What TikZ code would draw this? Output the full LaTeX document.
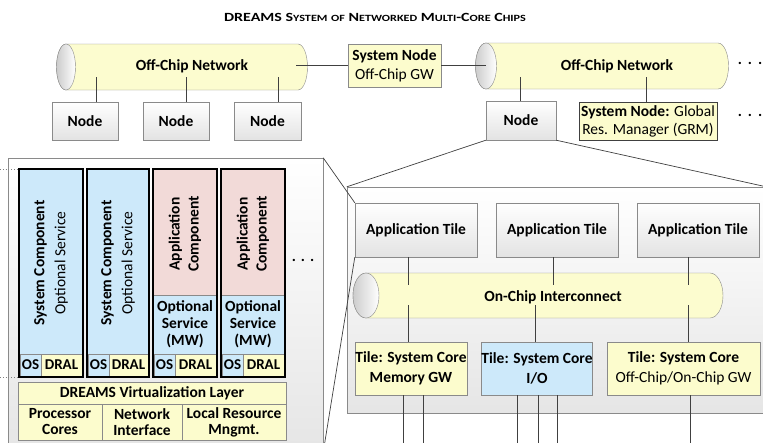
\documentclass[tikz,border=0pt]{standalone}
\usepackage{fontspec}
\setmainfont{Carlito}
\definecolor{cylY}{HTML}{FCFCCF}
\definecolor{boxY}{HTML}{FCFCCD}
\definecolor{boxB}{HTML}{CDE9FA}
\definecolor{boxP}{HTML}{F2DAD8}
\definecolor{edge}{HTML}{8A8A8A}
\definecolor{lin}{HTML}{404040}
\newcommand\bx[7]{\node[#2, minimum width={((#5)-(#3))*1pt}, minimum height={((#6)-(#4))*1pt}] (#1) at ({((#3)+(#5))/2},{-((#4)+(#6))/2}) {#7};}
\newcommand\hcyl[6]{%
  \path[draw=edge, fill=cylY] (#2,-#3) -- (#4,-#3) arc[start angle=90,end angle=-90,x radius=#6,y radius={(#5-#3)/2}] -- (#2,-#5) arc[start angle=270,end angle=90,x radius=#6,y radius={(#5-#3)/2}] -- cycle;
  \path[draw=edge, left color=black!20, right color=white] (#2,{-(#3+#5)/2}) ellipse[x radius=#6, y radius={(#5-#3)/2}];
  \coordinate (#1) at ({(#2+#4)/2},{-(#3+#5)/2});}
\newcommand\smc[1]{{\fontsize{9.5}{10}\selectfont #1}}
\tikzset{
  every node/.style={font=\fontsize{15.5}{18}\selectfont\bfseries, inner sep=0pt, align=center},
  graybox/.style={draw=edge, top color=white, bottom color=black!11},
  ybox/.style={draw=edge, fill=boxY},
  bbox/.style={draw=edge, fill=boxB},
  pbox/.style={draw=edge, fill=boxP},
  panel/.style={draw=edge, top color=white, bottom color=black!10},
  comp/.style={draw=black, line width=2pt},
  conn/.style={draw=lin, line width=0.8pt},
  fan/.style={draw=lin, line width=0.7pt},
  cell/.style={font=\fontsize{15}{16}\selectfont\bfseries},
  dotl/.style={draw=gray, dotted, line width=0.8pt}
}
\begin{document}
\begin{tikzpicture}[x=1pt,y=1pt]
\clip (0,0) rectangle (763,-442);
\fill[white] (0,0) rectangle (763,-442);

% title
\node (title) at (375,-17) {\scalebox{1.28}[1]{\fontsize{12.5}{14}\selectfont DREAMS S\smc{YSTEM} \smc{OF} N\smc{ETWORKED} M\smc{ULTI}-C\smc{ORE} C\smc{HIPS}}};

% top cylinders
\hcyl{offL}{66}{44}{298}{90}{9.5}
\node (offLtxt) at (192,-66) {Off-Chip Network};
\hcyl{offR}{486}{43}{718}{89}{10.5}
\node (offRtxt) at (617,-66) {Off-Chip Network};
\coordinate (offLend) at (296,-65.5);
\coordinate (offRend) at (486,-65.5);
\coordinate (cylLow) at (0,-77);

\bx{sysn}{ybox}{348}{44}{441}{87}{System Node\\[1pt]{\mdseries Off-Chip GW}}
\draw[conn] (offLend) -- (sysn.west);
\draw[conn] (sysn.east) -- (offRend);

\bx{n1}{graybox}{52}{102}{118}{140}{Node}
\bx{n2}{graybox}{143}{102}{209}{140}{Node}
\bx{n3}{graybox}{234}{102}{301}{140}{Node}
\bx{nR}{graybox}{486}{101}{556}{140}{Node}
\bx{grm}{draw=lin, fill=boxY}{579}{102}{717}{140}{System Node: {\mdseries Global}\\{\mdseries Res. Manager (GRM)}}
\draw[conn] ([xshift=11pt]n1.north) -- ([xshift=11pt]n1.north |- cylLow);
\draw[conn] ([xshift=10pt]n2.north) -- ([xshift=10pt]n2.north |- cylLow);
\draw[conn] ([xshift=10.5pt]n3.north) -- ([xshift=10.5pt]n3.north |- cylLow);
\draw[conn] ([xshift=-1pt]nR.north) -- ([xshift=-1pt]nR.north |- cylLow);
\draw[conn] ([xshift=-2pt]grm.north) -- ([xshift=-2pt]grm.north |- cylLow);

\node (dotsA) at (750,-63) {.\hspace{6pt}.\hspace{6pt}.};
\node (dotsB) at (750,-115) {.\hspace{6pt}.\hspace{6pt}.};

% panels
\bx{lpanel}{panel}{8}{158}{323}{452}{}
\bx{rpanel}{panel}{347}{187}{766}{413}{}

% left panel contents
\draw[dotl] (0,-169) -- (18,-169);
\draw[dotl] (0,-377) -- (18,-377);
\foreach \a/\b/\k in {19/83/1, 87/149/2, 153/217/3, 221/285/4}{
  \ifnum\k<3
    \bx{cf\k}{fill=boxB}{\a}{169}{\b}{377}{}
  \else
    \bx{cf\k}{fill=boxP}{\a}{169}{\b}{295}{}
    \bx{cm\k}{bbox}{\a}{295}{\b}{354}{Optional\\[-1pt]Service\\[-1pt](MW)}
  \fi
  \bx{os\k}{bbox, cell}{\a+1}{354}{\a+22}{376}{OS}
  \bx{dr\k}{ybox, cell}{\a+22}{354}{\b-1}{376}{DRAL}
  \bx{c\k}{comp}{\a}{169}{\b}{377}{}
}
\node[rotate=90] (c1t) at (51,-263) {System Component\\[3pt]{\mdseries Optional Service}};
\node[rotate=90] (c2t) at (118,-263) {System Component\\[3pt]{\mdseries Optional Service}};
\node[rotate=90] (c3t) at (185,-234) {Application\\[1pt]Component};
\node[rotate=90] (c4t) at (253,-234) {Application\\[1pt]Component};
\node (dotsC) at (303,-260) {.\hspace{5pt}.\hspace{5pt}.};

\bx{vl}{ybox}{18}{382}{286}{404}{DREAMS Virtualization Layer}
\bx{pc}{ybox}{18}{404}{102}{440}{Processor\\[-2pt]Cores}
\bx{ni}{ybox}{102}{404}{182}{440}{Network\\[-2pt]Interface}
\bx{lr}{ybox}{182}{404}{286}{440}{Local Resource\\[-2pt]Mngmt.}

% right panel contents
\hcyl{onc}{366}{273}{710}{318}{13}
\node (onctxt) at (553,-297) {On-Chip Interconnect};
\coordinate (oncTop) at (0,-285);
\coordinate (oncBot) at (0,-305);

\bx{at1}{graybox}{355}{203}{477}{257}{Application Tile}
\bx{at2}{graybox}{496}{203}{618}{257}{Application Tile}
\bx{at3}{graybox}{637}{203}{759}{257}{Application Tile}

\bx{t1}{ybox}{355}{342}{467}{395}{Tile: System Core\\[2pt]Memory GW}
\bx{t2}{bbox}{482}{342}{592}{395}{Tile: System Core\\[2pt]I/O}
\bx{t3}{ybox}{607}{342}{760}{395}{Tile: System Core\\[2pt]{\mdseries Off-Chip/On-Chip GW}}

\draw[conn] ([xshift=-8pt]at1.south) -- ([xshift=-8pt]at1.south |- oncTop);
\draw[conn] ([xshift=-4pt]at2.south) -- ([xshift=-4pt]at2.south |- oncTop);
\draw[conn] ([xshift=-10pt]at3.south) -- ([xshift=-10pt]at3.south |- oncTop);
\draw[conn] ([xshift=-3pt]t1.north) -- ([xshift=-3pt]t1.north |- oncBot);
\draw[conn] ([xshift=-2pt]t2.north) -- ([xshift=-2pt]t2.north |- oncBot);
\draw[conn] ([xshift=4.5pt]t3.north) -- ([xshift=4.5pt]t3.north |- oncBot);

\coordinate (bottom) at (0,-445);
\foreach \s in {-8,12}{\draw[conn] ([xshift=\s pt]t1.south) -- ([xshift=\s pt]t1.south |- bottom);}
\foreach \s in {-20,1,20}{\draw[conn] ([xshift=\s pt]t2.south) -- ([xshift=\s pt]t2.south |- bottom);}
\draw[conn] ([xshift=6.5pt]t3.south) -- ([xshift=6.5pt]t3.south |- bottom);

% fan lines
\draw[fan] (nR.south west) -- (rpanel.north west);
\draw[fan] (nR.south east) -- (rpanel.north east);
\draw[fan] (at1.north west) -- (lpanel.north east);
\draw[fan] (at1.south west) -- (lpanel.south east);
\end{tikzpicture}
\end{document}
